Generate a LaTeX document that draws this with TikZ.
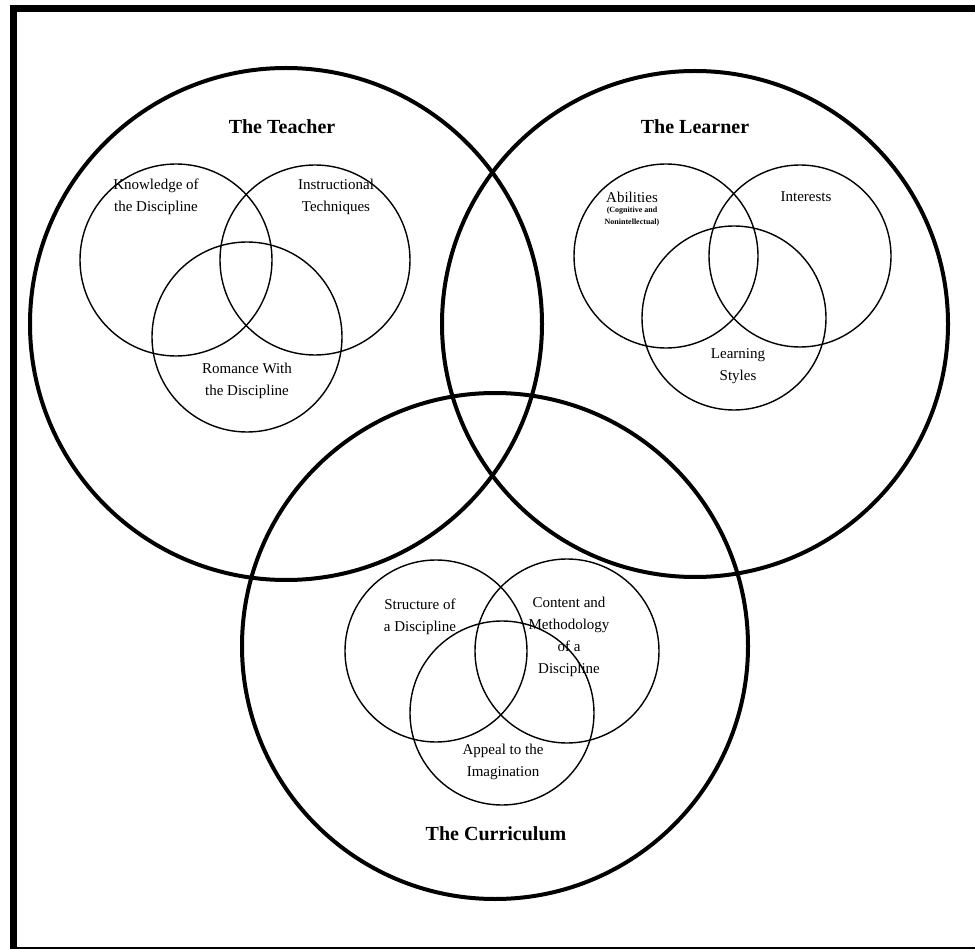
\documentclass[tikz,border=0pt]{standalone}
\usepackage{fontspec}
\setmainfont{Liberation Serif}
\usepackage{tikz}
\usetikzlibrary{positioning}
\tikzset{
  bigring/.style={circle,draw=black,line width=4pt,minimum size=#1,inner sep=0pt},
  smallring/.style={circle,draw=black,line width=1.4pt,minimum size=#1,inner sep=0pt},
  titlelbl/.style={font=\fontsize{20}{24}\selectfont\bfseries,align=center},
  itemlbl/.style={font=\fontsize{15}{22}\selectfont,align=center},
  tinylbl/.style={font=\fontsize{8}{12}\selectfont\bfseries,align=center,inner sep=1pt},
}

\begin{document}
\begin{tikzpicture}[x=1pt,y=-1pt]

\useasboundingbox (0,0) rectangle (975,949);

% outer frame (right side runs off the page)
\draw[line width=7pt] (13.5,8.5) rectangle (990,950.5);

% =================================================================
% three big rings
% =================================================================
\node[bigring=512pt] (teacher)    at (286,324) {};
\node[bigring=506pt] (learner)    at (695,324) {};
\node[bigring=506pt] (curriculum) at (495,646) {};

\node[titlelbl] (tT) at (282,127) {The Teacher};
\node[titlelbl] (tL) at (695,127) {The Learner};
\node[titlelbl] (tC) at (496,834) {The Curriculum};

% =================================================================
% teacher: three small rings
% =================================================================
\node[smallring=192pt] (know)  at (176,260) {};
\node[smallring=190pt] (instr) at (315,260) {};
\node[smallring=190pt] (rom)   at (247,337) {};

\node[itemlbl] at (156,197) {Knowledge of\\the Discipline};
\node[itemlbl] at (336,197) {Instructional\\Techniques};
\node[itemlbl] at (247,381) {Romance With\\the Discipline};

% =================================================================
% learner: three small rings
% =================================================================
\node[smallring=184pt] (abil)  at (666,256) {};
\node[smallring=182pt] (inter) at (800,256) {};
\node[smallring=184pt] (style) at (734,318) {};

\node[itemlbl]  (abl) at (632,197) {Abilities};
\node[tinylbl, below=0pt of abl] {(Cognitive and\\Nonintellectual)};
\node[itemlbl] at (806,197) {Interests};
\node[itemlbl] at (738,366) {Learning\\Styles};

% =================================================================
% curriculum: three small rings
% =================================================================
\node[smallring=182pt] (struc) at (436,651) {};
\node[smallring=184pt] (cont)  at (567,651) {};
\node[smallring=184pt] (appl)  at (502,713) {};

\node[itemlbl] at (420,617) {Structure of\\a Discipline};
\node[itemlbl] at (569,637) {Content and\\Methodology\\of a\\Discipline};
\node[itemlbl] at (503,762) {Appeal to the\\Imagination};

\end{tikzpicture}
\end{document}
